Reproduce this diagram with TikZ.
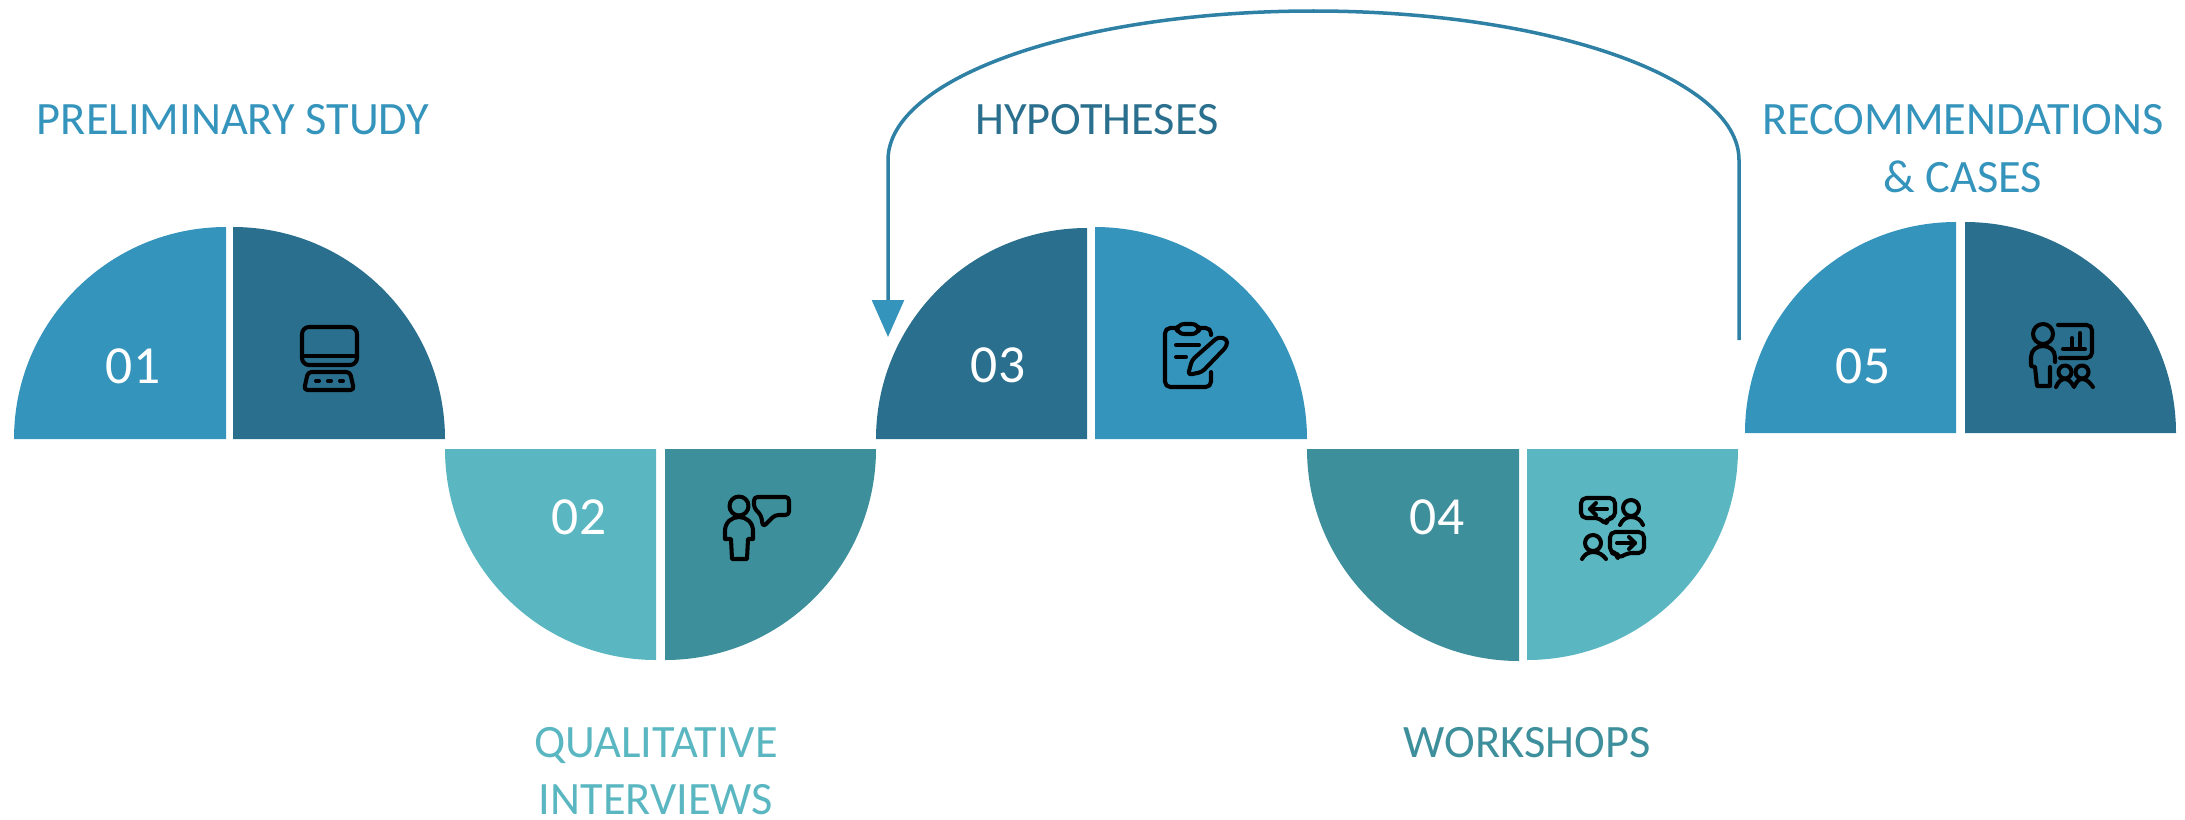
\documentclass[tikz,border=0pt]{standalone}
\usepackage{fontspec}
\setmainfont{Carlito}
\usepackage{tikz}
\usetikzlibrary{arrows.meta}

\definecolor{blueA}{HTML}{3594BC}
\definecolor{blueB}{HTML}{2A6F8D}
\definecolor{tealA}{HTML}{5AB7C1}
\definecolor{tealB}{HTML}{3D8F9B}
\definecolor{loopblue}{HTML}{2E80A4}

\begin{document}
\begin{tikzpicture}[x=0.02cm,y=-0.02cm,
    stagetext/.style={font=\fontsize{26.4}{32}\selectfont,inner sep=0pt,anchor=base},
    numtext/.style={font=\fontsize{30.5}{36}\selectfont,text=white,inner sep=0pt},
    icon/.style={draw=black,line width=2.3pt,line cap=round,line join=round},
    loopline/.style={draw=loopblue,line width=2pt,-{Triangle[length=21pt,width=18pt,color=blueA,fill=blueA]}}]
  \useasboundingbox (0,0) rectangle (2185,819);

  % stage 01
  \fill[blueA] (226,439) -- (14,439) arc[start angle=180,end angle=270,radius=212] -- cycle;
  \fill[blueB] (233,439) -- (233,227) arc[start angle=270,end angle=360,radius=212] -- cycle;
  % stage 02
  \fill[tealA] (656,449) -- (445,449) arc[start angle=180,end angle=90,radius=211] -- cycle;
  \fill[tealB] (665,449) -- (665,660) arc[start angle=90,end angle=0,radius=211] -- cycle;
  % stage 03
  \fill[blueB] (1087,439) -- (876,439) arc[start angle=180,end angle=270,radius=211] -- cycle;
  \fill[blueA] (1095,439) -- (1095,227) arc[start angle=270,end angle=360,radius=212] -- cycle;
  % stage 04
  \fill[tealB] (1519,449) -- (1307,449) arc[start angle=180,end angle=90,radius=212] -- cycle;
  \fill[tealA] (1527,449) -- (1527,660) arc[start angle=90,end angle=0,radius=211] -- cycle;
  % stage 05
  \fill[blueA] (1956,433) -- (1745,433) arc[start angle=180,end angle=270,radius=211] -- cycle;
  \fill[blueB] (1965,433) -- (1965,222) arc[start angle=270,end angle=360,radius=211] -- cycle;

  \node[numtext] (num01) at (133,366) {01};
  \node[numtext] (num02) at (579,517) {02};
  \node[numtext] (num03) at (998,365) {03};
  \node[numtext] (num04) at (1437,517) {04};
  \node[numtext] (num05) at (1863,366) {05};

  \node[stagetext,text=blueA] (study) at (233,134) {PRELIMINARY STUDY};
  \node[stagetext,text=tealA] (qual) at (656,757) {QUALITATIVE};
  \node[stagetext,text=tealA] (inter) at (656,814) {INTERVIEWS};
  \node[stagetext,text=blueB] (hypo) at (1097,134) {HYPOTHESES};
  \node[stagetext,text=tealB] (work) at (1527,757) {WORKSHOPS};
  \node[stagetext,text=blueA] (recom) at (1963,134) {RECOMMENDATIONS};
  \node[stagetext,text=blueA] (cases) at (1963,192) {\& CASES};

  % feedback arc
  \coordinate (loopstart) at (1739,340);
  \coordinate (loopend) at (888,337);
  \draw[loopline] (loopstart) -- (1739,160) arc[start angle=0,end angle=-180,x radius=425.5,y radius=149] -- (loopend);

  % computer
  \draw[icon,rounded corners=4pt] (302,327) rectangle (357,365);
  \draw[icon] (302,356) -- (357,356);
  \draw[icon,rounded corners=2pt] (308,372) -- (350,372) -- (354,390) -- (304,390) -- cycle;
  \draw[icon] (316,381) -- (319,381);
  \draw[icon] (328,381) -- (331,381);
  \draw[icon] (340,381) -- (343,381);

  % person with speech bubble
  \draw[icon] (739,506) circle (9.5);
  \draw[icon] (732,559) -- (731,539) -- (725,539) -- (725,531) .. controls (725,522) and (732,517) .. (739,517) .. controls (746,517) and (753,522) .. (753,531) -- (753,539) -- (748,539) -- (747,559) -- cycle;
  \draw[icon,rounded corners=2pt] (754,497) -- (789,497) -- (789,515) -- (775,515) -- (763,527) -- (761,515) -- (754,508) -- cycle;

  % clipboard and pencil
  \draw[icon,rounded corners=3pt] (1177,328) -- (1165,328) -- (1165,387) -- (1211,387) -- (1211,372);
  \draw[icon,rounded corners=3pt] (1198,328) -- (1211,328) -- (1211,335);
  \draw[icon,rounded corners=4pt] (1177,324) rectangle (1199,334);
  \draw[icon] (1176,345) -- (1199,345);
  \draw[icon] (1176,357) -- (1186,357);
  \draw[icon,rounded corners=2pt] (1188,375) -- (1192,360) -- (1218,337) -- (1227,339) -- (1227,346) -- (1202,372) -- cycle;

  % two people talking
  \draw[icon,rounded corners=3pt] (1600,518) -- (1581,518) -- (1581,498) -- (1615,498) -- (1615,518) -- (1607,518) -- (1606,525) -- cycle;
  \draw[icon] (1590,509) -- (1607,509);
  \draw[icon] (1596,503) -- (1590,509) -- (1596,515);
  \draw[icon] (1631,508) circle (8);
  \draw[icon] (1620,525) .. controls (1622,520) and (1626,517) .. (1631,517) .. controls (1637,517) and (1641,520) .. (1643,525);
  \draw[icon] (1593,543) circle (8);
  \draw[icon] (1582,559) .. controls (1584,555) and (1588,552) .. (1593,552) .. controls (1599,552) and (1603,555) .. (1606,559);
  \draw[icon,rounded corners=3pt] (1627,553) -- (1618,559) -- (1617,553) -- (1610,553) -- (1610,532) -- (1644,532) -- (1644,553) -- cycle;
  \draw[icon] (1617,543) -- (1635,543);
  \draw[icon] (1629,537) -- (1635,543) -- (1629,549);

  % presenter with audience
  \draw[icon] (2043,334) circle (10);
  \draw[icon] (2050,367) -- (2050,386) -- (2037,386) -- (2035,367) -- (2031,366) -- (2031,357) .. controls (2031,350) and (2037,346) .. (2043,346) .. controls (2049,346) and (2055,350) .. (2055,357) -- (2055,362);
  \draw[icon,rounded corners=3pt] (2058,325) -- (2092,325) -- (2092,358) -- (2060,358);
  \draw[icon] (2063,349) -- (2085,349);
  \draw[icon] (2072,338) -- (2072,349);
  \draw[icon] (2080,333) -- (2080,349);
  \draw[icon] (2065,372) circle (6.5);
  \draw[icon] (2082,372) circle (6.5);
  \draw[icon] (2056,387) .. controls (2058,382) and (2061,379) .. (2065,379) .. controls (2069,379) and (2072,383) .. (2074,387) .. controls (2076,383) and (2078,379) .. (2082,379) .. controls (2087,379) and (2090,383) .. (2093,387);
\end{tikzpicture}
\end{document}
